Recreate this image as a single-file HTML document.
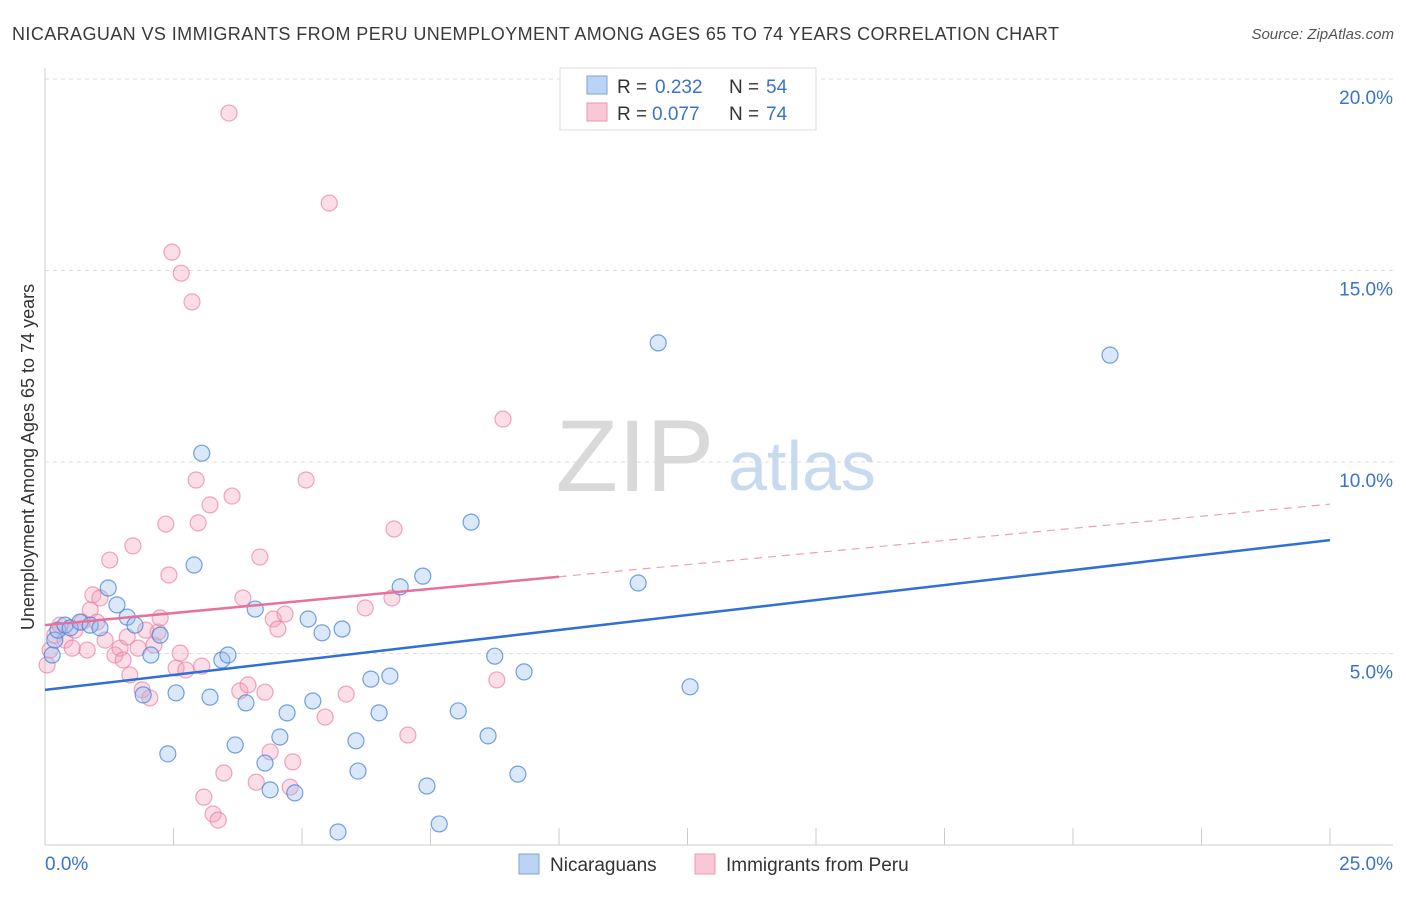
<!DOCTYPE html>
<html><head><meta charset="utf-8"><style>
body{margin:0;background:#fff;font-family:"Liberation Sans",sans-serif}
svg text{font-family:"Liberation Sans",sans-serif}
</style></head><body>
<svg id="chart" width="1406" height="892" xmlns="http://www.w3.org/2000/svg">
<text x="12" y="40" font-size="18" fill="#3a3a3a" textLength="1047" lengthAdjust="spacing">NICARAGUAN VS IMMIGRANTS FROM PERU UNEMPLOYMENT AMONG AGES 65 TO 74 YEARS CORRELATION CHART</text>
<text x="1394" y="39" font-size="15" font-style="italic" fill="#555" text-anchor="end">Source: ZipAtlas.com</text>
<g id="grid"></g>
<g><text x="635" y="491" font-size="102" font-family="Liberation Serif" fill="#d9d9d9" text-anchor="middle">ZIP</text><text x="802" y="490" font-size="70" fill="#c8daf0" text-anchor="middle">atlas</text></g>
<text transform="translate(34,457) rotate(-90)" font-size="18" fill="#333" text-anchor="middle">Unemployment Among Ages 65 to 74 years</text>
<g id="marks"></g>
<g>
<rect x="560" y="68" width="256" height="62" fill="#fff" stroke="#ddd"/>
<rect x="587" y="76" width="20" height="18" fill="#bcd4f3" stroke="#7ba3dd"/>
<text x="617" y="93" font-size="19" fill="#333">R = </text><text x="655" y="93" font-size="19" fill="#3a73c8">0.232</text>
<text x="729" y="93" font-size="19" fill="#333">N = </text><text x="766" y="93" font-size="19" fill="#3a73c8">54</text>
<rect x="587" y="103" width="20" height="18" fill="#f9c8d6" stroke="#e79ab2"/>
<text x="617" y="120" font-size="19" fill="#333">R = </text><text x="652" y="120" font-size="19" fill="#3a73c8">0.077</text>
<text x="729" y="120" font-size="19" fill="#333">N = </text><text x="766" y="120" font-size="19" fill="#3a73c8">74</text>
</g>
<g>
<rect x="519" y="854" width="20" height="20" fill="#bcd4f3" stroke="#7ba3dd"/>
<text x="550" y="871" font-size="19" fill="#333">Nicaraguans</text>
<rect x="695" y="854" width="20" height="20" fill="#f9c8d6" stroke="#e79ab2"/>
<text x="726" y="871" font-size="19" fill="#333">Immigrants from Peru</text>
</g>
</svg>
<script>
const yTicks=[5,10,15,20];
const yTickLabels=["5.0%","10.0%","15.0%","20.0%"];
const xTickLabels=["0.0%","25.0%"];
const blueX=[0.14,0.19,0.25,0.39,0.49,0.68,0.88,1.07,1.23,1.40,1.60,1.75,1.91,2.06,2.24,2.39,2.55,2.90,3.05,3.21,3.44,3.56,3.70,3.91,4.09,4.28,4.38,4.57,4.71,4.86,5.12,5.21,5.39,5.70,5.78,6.05,6.09,6.34,6.50,6.71,6.91,7.35,7.43,7.67,8.04,8.29,8.62,8.75,9.20,9.32,11.54,11.93,12.55,20.72];
const blueY=[4.96,5.35,5.61,5.74,5.67,5.82,5.74,5.67,6.71,6.27,5.95,5.74,3.92,4.96,5.48,2.38,3.97,7.31,10.23,3.86,4.83,4.96,2.61,3.71,6.16,2.14,1.44,2.82,3.45,1.36,5.90,3.76,5.54,0.34,5.64,2.72,1.93,4.33,3.45,4.41,6.74,7.02,1.54,0.55,3.50,8.43,2.85,4.93,1.85,4.52,6.84,13.11,4.13,12.79];
const pinkX=[0.04,0.10,0.19,0.29,0.39,0.53,0.58,0.72,0.82,0.88,0.93,1.01,1.07,1.17,1.26,1.36,1.46,1.52,1.60,1.65,1.71,1.81,1.89,1.96,2.04,2.12,2.20,2.24,2.35,2.41,2.47,2.55,2.63,2.65,2.74,2.86,2.94,2.98,3.05,3.09,3.21,3.27,3.37,3.48,3.58,3.64,3.79,3.85,3.95,4.11,4.18,4.28,4.38,4.44,4.53,4.67,4.77,4.82,5.08,5.45,5.53,5.86,6.23,6.75,6.79,7.06,8.79,8.91];
const pinkY=[4.70,5.09,5.48,5.74,5.35,5.14,5.61,5.82,5.09,6.14,6.53,5.82,6.45,5.35,7.44,4.96,5.14,4.83,5.43,4.44,7.81,5.14,4.05,5.61,3.84,5.22,5.56,5.93,8.38,7.05,15.48,4.62,5.01,14.93,4.57,14.18,9.53,8.41,4.67,1.25,8.88,0.81,0.65,1.88,19.11,9.11,4.02,6.45,4.18,1.64,7.52,3.99,2.43,5.90,5.64,6.03,1.51,2.17,9.53,3.34,16.76,3.94,6.19,6.45,8.25,2.87,4.31,11.12];
const blueTrend=[4.05,7.96];
const pinkTrend=[5.74,8.9];
const pinkSolidEnd=10;
const X=v=>45+v*51.4, Y=v=>845-v*38.3;
const NS="http://www.w3.org/2000/svg";
const g=document.getElementById('grid'), m=document.getElementById('marks');
function mk(p,t,a){const e=document.createElementNS(NS,t);for(const k in a)e.setAttribute(k,a[k]);p.appendChild(e);return e;}
let l=mk(g,'line',{x1:45,y1:68,x2:45,y2:845,stroke:'#ccc'});


l=mk(g,'line',{x1:45,y1:845,x2:1393,y2:845,stroke:'#ccc'});


l=mk(g,'line',{x1:45,y1:79,x2:1393,y2:79,stroke:'#ddd','stroke-dasharray':'4,4'});


yTicks.forEach((v,i)=>{
 const gl=mk(g,'line',{x1:45,y1:Y(v),x2:1393,y2:Y(v),stroke:'#ddd','stroke-dasharray':'4,4'});
 
 
 const t=mk(g,'text',{x:1393,y:Y(v)+25,'font-size':19,fill:'#3a73c8','text-anchor':'end'});t.textContent=yTickLabels[i];
 
 
});
for(let i=0;i<=10;i++){const tk=mk(g,'line',{x1:X(i*2.5),y1:828,x2:X(i*2.5),y2:845,stroke:'#ccc'});
 
 }
[[0,45,'start'],[25,1393,'end']].forEach((d,i)=>{const t=mk(g,'text',{x:d[1],y:870,'font-size':19,fill:'#3a73c8','text-anchor':d[2]});t.textContent=xTickLabels[i];
 
 });
pinkX.forEach((x,i)=>{const c=mk(m,'circle',{cx:X(x),cy:Y(pinkY[i]),r:8,fill:'rgba(244,160,186,0.35)',stroke:'rgba(232,130,162,0.7)','stroke-width':1.2});
 
 });
blueX.forEach((x,i)=>{const c=mk(m,'circle',{cx:X(x),cy:Y(blueY[i]),r:8,fill:'rgba(150,190,240,0.35)',stroke:'rgba(70,130,215,0.75)','stroke-width':1.2});
 
 });
const pm=pinkTrend[0]+(pinkTrend[1]-pinkTrend[0])*pinkSolidEnd/25;
l=mk(m,'line',{x1:X(0),y1:Y(pinkTrend[0]),x2:X(pinkSolidEnd),y2:Y(pm),stroke:'#e8709a','stroke-width':2.5});


l=mk(m,'line',{x1:X(pinkSolidEnd),y1:Y(pm),x2:X(25),y2:Y(pinkTrend[1]),stroke:'#eaa0b8','stroke-width':1.2,'stroke-dasharray':'8,6'});


l=mk(m,'line',{x1:X(0),y1:Y(blueTrend[0]),x2:X(25),y2:Y(blueTrend[1]),stroke:'#2f6fd6','stroke-width':2.5});


</script>
</body></html>
